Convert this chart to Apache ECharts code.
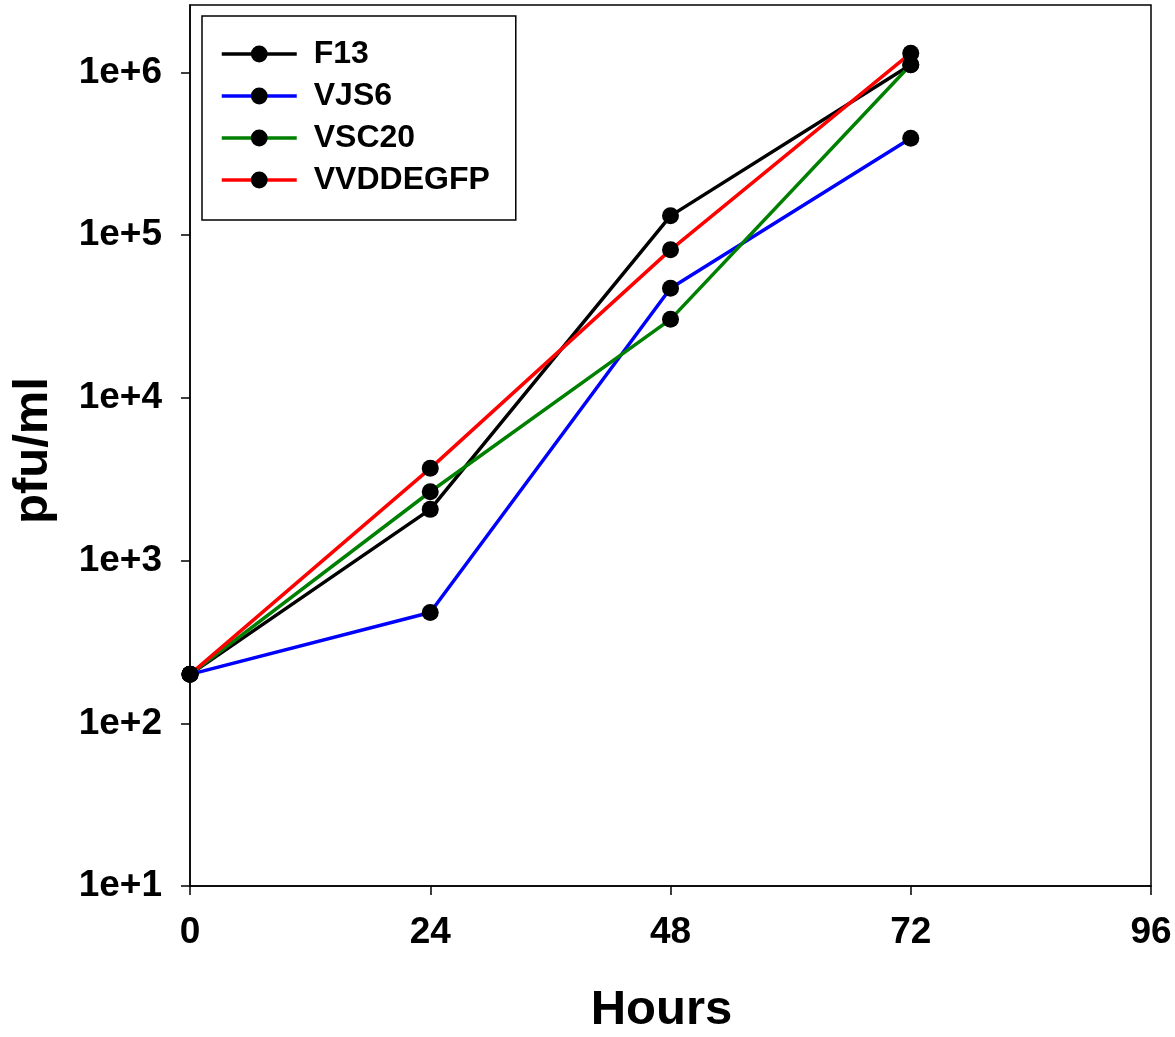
<!DOCTYPE html>
<html>
<head>
<meta charset="utf-8">
<script src="https://cdn.jsdelivr.net/npm/echarts@6/dist/echarts.min.js"></script>
<style>
  html, body { margin: 0; padding: 0; background: #fff; }
  #chart { width: 1175px; height: 1037px; }
</style>
</head>
<body>
<div id="chart"></div>
<script>
const hours = [0, 24, 48, 72];
const f13 = [200, 2065, 131500, 1115000];
const vjs6 = [200, 480, 47200, 395000];
const vsc20 = [200, 2650, 30400, 1115000];
const vvddegfp = [200, 3690, 81300, 1315000];
const yTicks = [10, 100, 1000, 10000, 100000, 1000000];

const font = 'Liberation Sans, Arial, sans-serif';

function makeSeries(name, color, values) {
  return {
    name: name,
    type: 'line',
    data: hours.map((h, i) => [h, values[i]]),
    symbol: 'circle',
    symbolSize: 17,
    itemStyle: { color: '#000' },
    lineStyle: { color: color, width: 3.5 },
    emphasis: { disabled: true },
  };
}

const chart = echarts.init(document.getElementById('chart'), null, { renderer: 'canvas' });

chart.setOption({
  animation: false,
  grid: {
    left: 190,
    right: 24,
    top: 5,
    bottom: 151,
    outerBoundsMode: 'none',
    show: true,
    borderColor: '#000',
    borderWidth: 1.5,
  },
  legend: {
    orient: 'vertical',
    left: 202,
    top: 16,
    padding: [22, 26, 24, 18],
    borderColor: '#000',
    borderWidth: 1.5,
    itemWidth: 75,
    itemHeight: 21,
    itemGap: 10,
    lineStyle: { width: 3.5 },
    textStyle: {
      fontFamily: font, fontWeight: 'bold', fontSize: 32, lineHeight: 32, color: '#000',
      padding: [0, 0, 0, 12],
    },
    data: ['F13', 'VJS6', 'VSC20', 'VVDDEGFP'],
  },
  xAxis: {
    type: 'value',
    min: 0,
    max: 96,
    interval: 24,
    name: 'Hours',
    nameLocation: 'middle',
    nameGap: 100,
    nameTextStyle: { fontFamily: font, fontWeight: 'bold', fontSize: 49, color: '#000', padding: [0, 18, 0, 0] },
    axisLine: { lineStyle: { color: '#000', width: 1.5 } },
    axisTick: { length: 9, lineStyle: { color: '#000', width: 1.5 } },
    axisLabel: { margin: 28, fontFamily: font, fontWeight: 'bold', fontSize: 37, color: '#000' },
    splitLine: { show: false },
  },
  yAxis: {
    type: 'log',
    logBase: 10,
    min: 10,
    max: 2600000,
    name: 'pfu/ml',
    nameLocation: 'middle',
    nameGap: 132,
    nameTextStyle: { fontFamily: font, fontWeight: 'bold', fontSize: 49, color: '#000', padding: [0, 10, 0, 0] },
    axisLine: { lineStyle: { color: '#000', width: 1.5 } },
    axisTick: { length: 9, lineStyle: { color: '#000', width: 1.5 }, customValues: yTicks },
    axisLabel: {
      margin: 28,
      fontFamily: font,
      fontWeight: 'bold',
      fontSize: 37,
      color: '#000',
      customValues: yTicks,
      formatter: v => '1e+' + Math.round(Math.log10(v)),
    },
    splitLine: { show: false },
  },
  series: [
    makeSeries('F13', '#000000', f13),
    makeSeries('VJS6', '#0000ff', vjs6),
    makeSeries('VSC20', '#008000', vsc20),
    makeSeries('VVDDEGFP', '#ff0000', vvddegfp),
  ],
});
</script>
</body>
</html>
